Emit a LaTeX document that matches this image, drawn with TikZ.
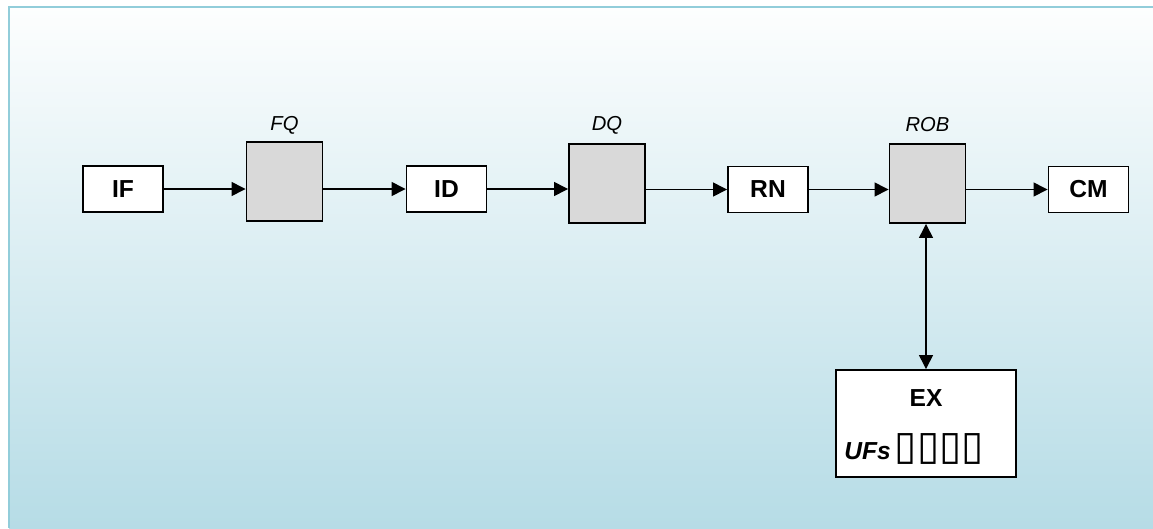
\documentclass[tikz,border=0pt]{standalone}
\usepackage{fontspec}
\setmainfont{Liberation Sans}
\newfontfamily\boxfont{DejaVu Sans}
\usetikzlibrary{arrows.meta}
\definecolor{paneltop}{RGB}{253,254,254}
\definecolor{panelbottom}{RGB}{182,220,230}
\definecolor{panelrule}{RGB}{146,205,218}
\definecolor{queuegray}{RGB}{217,217,217}

\begin{document}
\begin{tikzpicture}[x=0.02cm, y=-0.02cm, >={Triangle[length=0.28cm,width=0.28cm]},
    unit/.style={draw, line width=1.1pt, fill=white, minimum width=1.6cm, minimum height=0.92cm, inner sep=0pt, font=\fontsize{14}{16}\selectfont\bfseries},
    queue/.style={draw, line width=1.1pt, fill=queuegray, minimum width=1.52cm, minimum height=1.58cm, inner sep=0pt},
    qname/.style={font=\fontsize{11.5}{13}\selectfont\itshape},
    flow/.style={line width=0.8pt}]
      \useasboundingbox (0,0) rectangle (1153,528);
      \shade[top color=paneltop, bottom color=panelbottom] (9,7) rectangle (1153,528);
      \draw[panelrule, line width=1.1pt] (9,528) -- (9,7) -- (1153,7);

      \node[unit] at (123,189) (if){IF};
      \node[queue] at (284.5,181.5) (fq){};
      \node[qname] at (284.5,125) (fqname){FQ};
      \node[unit] at (446.5,189) (id){ID};
      \node[queue] at (607,183.5) (dq){};
      \node[qname] at (607,125) (dqname){DQ};
      \node[unit] at (768,189.5) (rn){RN};
      \node[queue] at (927.5,183.5) (rob){};
      \node[qname] at (927.5,125) (robname){ROB};
      \node[unit] at (1088.5,189.5) (cm){CM};
      \node[draw, line width=1.1pt, fill=white, minimum width=3.6cm, minimum height=2.14cm] at (926,423.5) (ex){};
      \node[font=\fontsize{14}{16}\selectfont\bfseries] at (926,398) (exname){EX};
      \node[anchor=base west, inner sep=0pt, font=\fontsize{14}{16}\selectfont\bfseries] at (844,459) (exunits){\textit{UFs}\,{\boxfont\fontsize{23}{24}\selectfont ▯▯▯▯}};

      \draw[flow, ->] (if.east) -- (if.east -| fq.west);
      \draw[flow, ->] (fq.east |- id) -- (id.west);
      \draw[flow, ->] (id.east) -- (id.east -| dq.west);
      \draw[flow, ->] (dq.east |- rn) -- (rn.west);
      \draw[flow, ->] (rn.east) -- (rn.east -| rob.west);
      \draw[flow, ->] (rob.east |- cm) -- (cm.west);
      \draw[flow, <->] (rob.south -| ex.north) -- (ex.north);
\end{tikzpicture}
\end{document}
